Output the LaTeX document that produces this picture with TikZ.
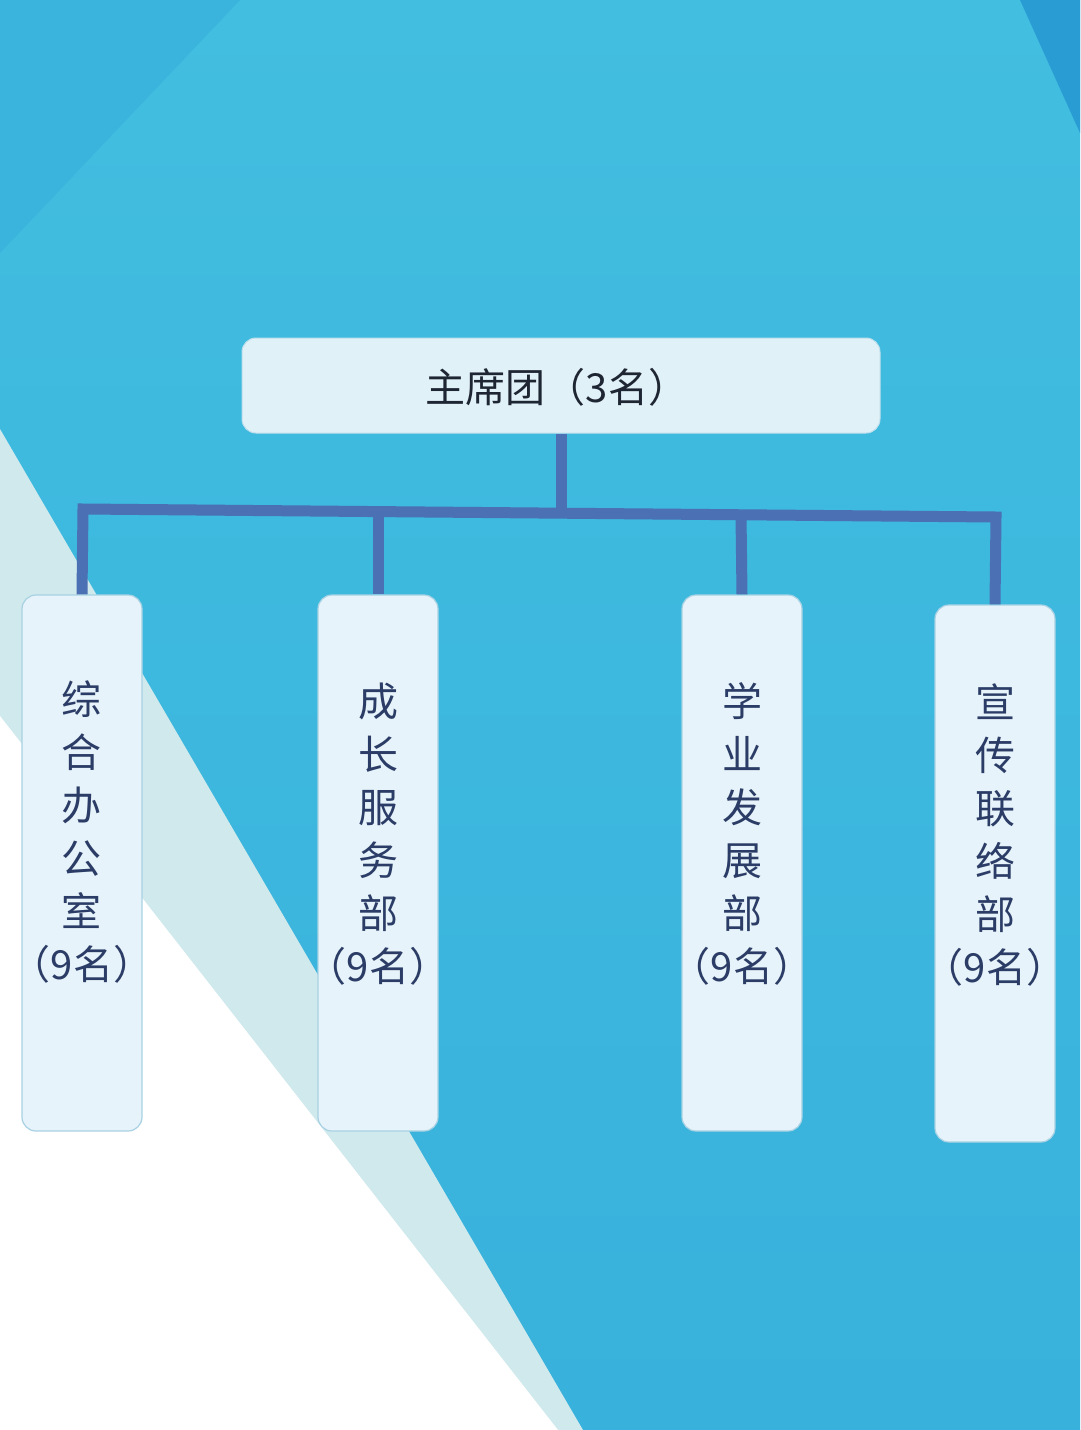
\documentclass[tikz,border=0pt]{standalone}
\usepackage{fontspec}
\newfontfamily\cjk{Noto Sans CJK SC}
\definecolor{bgtop}{HTML}{42BEE0}
\definecolor{bgbot}{HTML}{38B1DC}
\definecolor{bgdark}{HTML}{3AB3DD}
\definecolor{cornerblue}{HTML}{2A9CD4}
\definecolor{paleteal}{HTML}{CFE9EC}
\definecolor{connblue}{HTML}{4B70B3}
\definecolor{boxfill}{HTML}{E7F3FA}
\definecolor{topfill}{HTML}{E1F1F8}
\definecolor{boxedge}{HTML}{A8D2E4}
\definecolor{txtnavy}{HTML}{2B3D66}
\definecolor{txtdark}{HTML}{1E2633}
\begin{document}
\begin{tikzpicture}[x=1pt,y=-1pt,
  conn/.style={line width=11pt, draw=connblue, line join=miter},
  deptbox/.style={draw=boxedge, line width=1.2pt, fill=boxfill, rounded corners=14pt,
    minimum width=120pt, minimum height=536pt, inner sep=0pt},
  headbox/.style={draw=boxedge!60!topfill, line width=1pt, fill=topfill, rounded corners=14pt,
    minimum width=638pt, minimum height=95pt, inner sep=0pt},
  depttext/.style={font=\cjk\fontsize{40}{53}\selectfont, text=txtnavy, align=center, inner sep=0pt},
  headtext/.style={font=\cjk\fontsize{40}{48}\selectfont, text=txtdark, inner sep=0pt},
]
\useasboundingbox (0,0) rectangle (1080,1430);
% background
\fill[top color=bgtop, bottom color=bgbot] (0,0) rectangle (1080,1430);
\fill[bgdark] (0,0) -- (240,0) -- (0,253) -- cycle;
\fill[cornerblue] (1020,0) -- (1080,0) -- (1080,133) -- cycle;
\fill[paleteal] (0,429) -- (583,1430) -- (0,1430) -- cycle;
\fill[white] (0,716) -- (558,1430) -- (0,1430) -- cycle;

% nodes
\node[headbox] (top) at (561,385.5) {};
\node[headtext] (toptext) at (557,387) {主席团（3名）};

\node[deptbox] (d1) at (82,863) {};
\node[deptbox] (d2) at (378,863) {};
\node[deptbox] (d3) at (742,863) {};
\node[deptbox, minimum height=537pt] (d4) at (995,873.5) {};

\node[depttext] (t1) at (82,832) {综\\合\\办\\公\\室\\（9名）};
\node[depttext] (t2) at (378,834) {成\\长\\服\\务\\部\\（9名）};
\node[depttext] (t3) at (742,834) {学\\业\\发\\展\\部\\（9名）};
\node[depttext] (t4) at (995,835) {宣\\传\\联\\络\\部\\（9名）};

% connectors
\coordinate (b1) at (83,509);
\coordinate (b2) at (378,511);
\coordinate (b0) at (561,512.5);
\coordinate (b3) at (741,514.5);
\coordinate (b4) at (996,517);
\draw[conn] (d1.north) -- (b1) -- (b4) -- (d4.north);
\draw[conn] (top.south) -- (b0);
\draw[conn] (b2) -- (d2.north);
\draw[conn] (b3) -- (d3.north);
\end{tikzpicture}
\end{document}
